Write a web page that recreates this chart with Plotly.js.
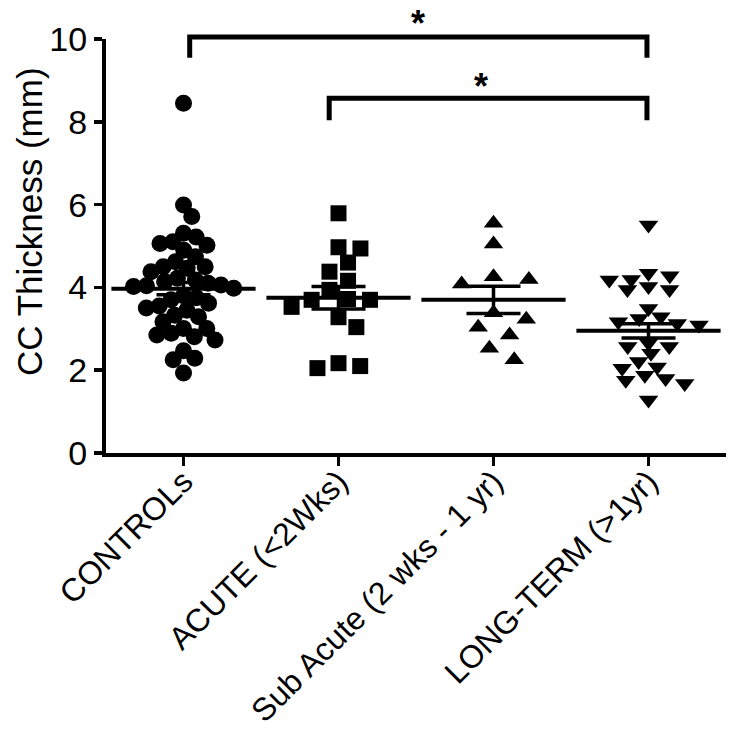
<!DOCTYPE html>
<html><head><meta charset="utf-8">
<script src="https://cdn.plot.ly/plotly-3.0.1.min.js"></script>
<style>html,body{margin:0;padding:0;background:#fff}</style>
</head><body><div id="chart" style="width:733px;height:733px"></div>
<script>
// ---- data ----
const categories = ['CONTROLs', 'ACUTE (<2Wks)', 'Sub Acute (2 wks - 1 yr)', 'LONG-TERM (>1yr)'];
const controls = [8.45, 5.99, 5.71, 5.31, 5.22, 5.10, 5.06, 5.02, 4.90, 4.74, 4.62, 4.50, 4.50, 4.46, 4.38,
  4.22, 4.18, 4.14, 4.10, 4.06, 4.04, 4.02, 3.98, 3.80, 3.75, 3.70, 3.62, 3.55, 3.50, 3.45,
  3.33, 3.29, 3.17, 3.01, 3.01, 2.89, 2.85, 2.81, 2.73, 2.47, 2.29, 2.25, 1.93];
const acute = [5.79, 4.97, 4.94, 4.60, 4.38, 4.16, 3.94, 3.72, 3.70, 3.70, 3.53, 3.28, 3.04, 2.17, 2.05, 2.10];
const subAcute = [5.55, 5.05, 4.26, 4.19, 4.08, 3.39, 3.23, 3.04, 2.85, 2.53, 2.25];
const longTerm = [5.51, 4.34, 4.28, 4.19, 4.18, 4.02, 3.95, 3.95, 3.49, 3.29, 3.25, 3.17, 3.13, 3.09,
  2.65, 2.57, 2.57, 2.41, 2.21, 2.08, 2.05, 1.88, 1.80, 1.76, 1.68, 1.28];
const means = [3.97, 3.75, 3.70, 2.95];
const sems = [0.15, 0.27, 0.33, 0.175];
const yTicks = [0, 2, 4, 6, 8, 10];
const yTitle = 'CC Thickness (mm)';
// significance brackets
const bracketFrom = [0.04, 0.94];
const bracketTo = [2.99, 2.99];
const bracketY = [10.05, 8.57];
const bracketDrop = [0.5, 0.53];
const starX = [1.51, 1.92];
const starY = [10.58, 9.06];

// ---- layout geometry ----
const W = 733, H = 733, mL = 106, mR = 7, mT = 39, mB = 280;
const xr = [-0.5, 3.5], yr = [0, 10];
const pxX = (W - mL - mR) / (xr[1] - xr[0]);
const pxY = (H - mT - mB) / (yr[1] - yr[0]);

function swarm(vals, dX, dY) {
  const order = vals.map((v, i) => i).sort((a, b) => vals[b] - vals[a]);
  const placed = [];
  const out = new Array(vals.length);
  const hit = (x, y) => placed.some(p => ((p.x - x) / dX) ** 2 + ((p.y - y) / dY) ** 2 < 0.999);
  for (const i of order) {
    const y = vals[i] * pxY;
    const cands = [0];
    for (const p of placed) {
      const dy = Math.abs(p.y - y);
      if (dy < dY) {
        const dx = dX * Math.sqrt(1 - (dy / dY) ** 2);
        cands.push(p.x + dx, p.x - dx);
      }
    }
    cands.sort((a, b) => Math.abs(a) - Math.abs(b) || b - a);
    let best = 0;
    for (const c of cands) { if (!hit(c, y)) { best = c; break; } }
    placed.push({ x: best, y });
    out[i] = best / pxX;
  }
  return out;
}

const groups = [controls, acute, subAcute, longTerm];
const symbols = ['circle', 'square', 'triangle-up', 'triangle-down'];
const sizes = [17, 16, 17, 17];
const spread = [[13, 15], [22, 17], [36, 16], [22, 10]];

const traces = groups.map((g, k) => {
  const off = swarm(g, spread[k][0], spread[k][1]);
  return {
    type: 'scatter', mode: 'markers',
    x: off.map(o => k + o), y: g,
    marker: { symbol: symbols[k], size: sizes[k], color: '#000', line: { width: 0 } },
    hoverinfo: 'y', showlegend: false
  };
});

traces.push({
  type: 'scatter', mode: 'markers',
  x: [0, 1, 2, 3], y: means,
  marker: { symbol: 'line-ew', size: 103, color: '#000', line: { width: 4, color: '#000' } },
  error_y: { type: 'data', array: sems, visible: true, width: 27, thickness: 3.5, color: '#000' },
  showlegend: false, hoverinfo: 'y'
});

const px = x => (x - xr[0]) / (xr[1] - xr[0]);
const py = y => (y - yr[0]) / (yr[1] - yr[0]);
const shapes = bracketFrom.map((f, i) => ({
  type: 'path', xref: 'paper', yref: 'paper',
  path: `M ${px(f)} ${py(bracketY[i] - bracketDrop[i])} L ${px(f)} ${py(bracketY[i])} L ${px(bracketTo[i])} ${py(bracketY[i])} L ${px(bracketTo[i])} ${py(bracketY[i] - bracketDrop[i])}`,
  line: { color: '#000', width: 5 }
}));
const font = 'Liberation Sans, Arial, sans-serif';
const annotations = starX.map((x, i) => ({
  xref: 'paper', yref: 'paper', x: px(x), y: py(starY[i]), yshift: -9,
  text: '<b>*</b>', showarrow: false, xanchor: 'center', yanchor: 'middle',
  font: { family: font, size: 36, color: '#000' }
}));
// y-axis title as a rotated annotation (placed like the reference)
annotations.push({
  xref: 'paper', yref: 'paper', x: 0, xshift: -76, y: py(5.58), xanchor: 'center', yanchor: 'middle',
  text: yTitle, textangle: -90, showarrow: false,
  font: { family: font, size: 35, color: '#000' }
});

const layout = {
  width: W, height: H,
  margin: { l: mL, r: mR, t: mT, b: mB, pad: 0 },
  paper_bgcolor: '#fff', plot_bgcolor: '#fff',
  showlegend: false,
  xaxis: {
    range: xr, tickvals: [0, 1, 2, 3], ticktext: categories, tickangle: -45,
    ticks: 'outside', ticklen: 9, tickwidth: 3.5, tickcolor: '#000',
    ticklabelstandoff: -16,
    showline: true, linewidth: 4, linecolor: '#000', showgrid: false, zeroline: false,
    tickfont: { family: font, size: 32, color: '#000' }, fixedrange: true
  },
  yaxis: {
    range: yr, tickvals: yTicks, ticks: 'outside', ticklen: 8, tickwidth: 3.5, tickcolor: '#000',
    showline: true, linewidth: 4, linecolor: '#000', showgrid: false, zeroline: false,
    tickfont: { family: font, size: 34, color: '#000' },
    fixedrange: true
  },
  shapes, annotations
};
Plotly.newPlot('chart', traces, layout, { displayModeBar: false, staticPlot: true });
</script>
</body></html>
